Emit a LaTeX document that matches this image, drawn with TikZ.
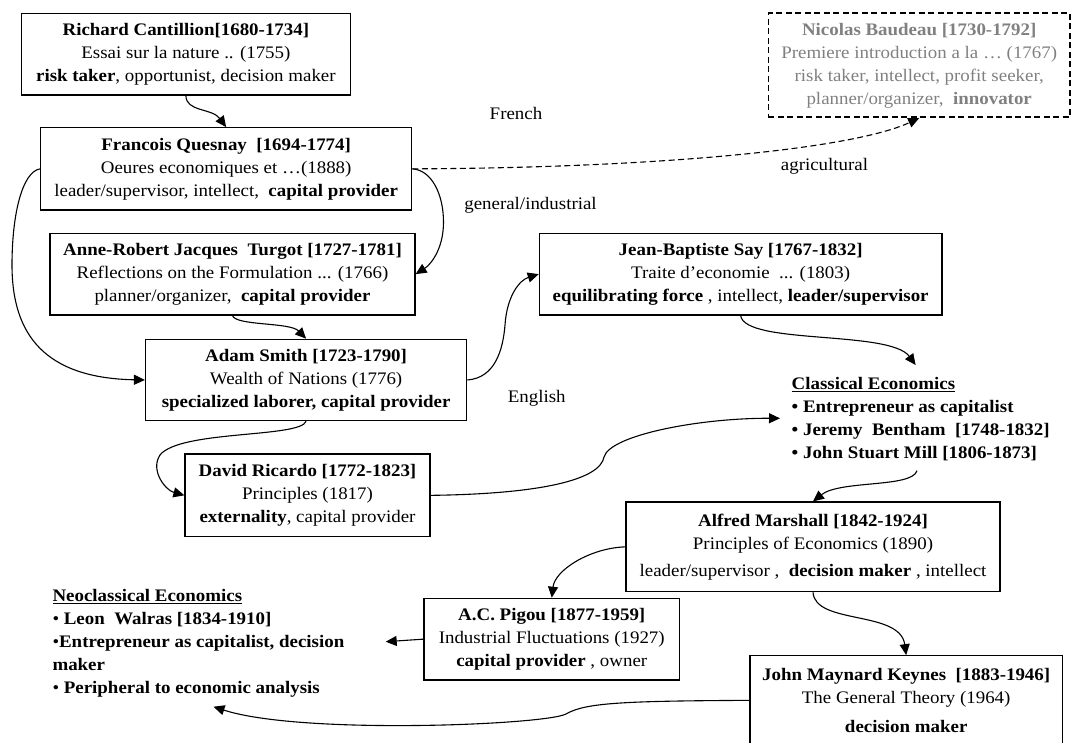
\documentclass[tikz,border=0pt]{standalone}
\usepackage{fontspec}
\setmainfont{Liberation Serif}[FakeStretch=1.075]
\usetikzlibrary{arrows.meta}
\definecolor{fadegray}{HTML}{808080}
\tikzset{
  txt/.style={font=\fontsize{17.6}{23}\selectfont, align=center, inner sep=0pt},
  card/.style={txt, draw=black, line width=1.2pt},
  ghostcard/.style={txt, draw=black, line width=1.6pt, dash pattern=on 6pt off 3.5pt, text=fadegray},
  lbl/.style={font=\fontsize{17.6}{23}\selectfont, inner sep=0pt, anchor=base},
  link/.style={line width=1.1pt, -{Triangle[length=11pt,width=10pt]}},
  dashlink/.style={link, dash pattern=on 6pt off 3.5pt},
}
\begin{document}
\begin{tikzpicture}[x=1pt, y=-1pt]
\useasboundingbox (0,0) rectangle (1073,743);

% thinkers
\node[card, minimum width=329.2pt, minimum height=81.7pt] (cant) at (185.9,54.15)
  {\textbf{Richard Cantillion[1680-1734]}\\Essai sur la nature .. (1755)\\\textbf{risk taker}, opportunist, decision maker};
\node[card, minimum width=371.1pt, minimum height=82.3pt] (ques) at (226.15,168.85)
  {\textbf{Francois Quesnay \ [1694-1774]}\\Oeures economiques et …(1888)\\leader/supervisor, intellect, \ \textbf{capital provider}};
\node[card, minimum width=365pt, minimum height=81.7pt] (turg) at (232.5,274.15)
  {\textbf{Anne-Robert Jacques \ Turgot [1727-1781]}\\Reflections on the Formulation ... (1766)\\planner/organizer, \ \textbf{capital provider}};
\node[card, minimum width=321.2pt, minimum height=81.4pt] (smith) at (306.1,380)
  {\textbf{Adam Smith [1723-1790]}\\Wealth of Nations (1776)\\\textbf{specialized laborer, capital provider}};
\node[card, minimum width=245pt, minimum height=82.7pt] (ric) at (307.5,495.35)
  {\textbf{David Ricardo [1772-1823]}\\Principles (1817)\\\textbf{externality}, capital provider};
\node[ghostcard, minimum width=301.6pt, minimum height=104pt] (baud) at (919.2,65.3)
  {\textbf{Nicolas Baudeau [1730-1792]}\\Premiere introduction a la … (1767)\\risk taker, intellect, profit seeker,\\planner/organizer, \ \textbf{innovator}};
\node[card, minimum width=402.7pt, minimum height=81.7pt] (say) at (740.65,274.15)
  {\textbf{Jean-Baptiste Say [1767-1832]}\\Traite d’economie \ ... (1803)\\\textbf{equilibrating force} , intellect, \textbf{leader/supervisor}};
\node[card, minimum width=374pt, minimum height=89.7pt] (marsh) at (813,546.85)
  {\textbf{Alfred Marshall [1842-1924]}\\Principles of Economics (1890)\\[4.3pt]leader/supervisor , \ \textbf{decision maker} , intellect};
\node[card, minimum width=255.5pt, minimum height=81.7pt] (pigou) at (551.75,639.15)
  {\textbf{A.C. Pigou [1877-1959]}\\Industrial Fluctuations (1927)\\\textbf{capital provider} , owner};
\node[card, minimum width=312.4pt, minimum height=89.3pt] (keynes) at (906.2,700.35)
  {\textbf{John Maynard Keynes \ [1883-1946]}\\[0.3pt]The General Theory (1964)\\[5.3pt]\textbf{decision maker}};

% schools
\node[txt, align=left, anchor=west] (classical) at (791.5,418.7)
  {\textbf{\underline{Classical Economics}}\\\textbf{• Entrepreneur as capitalist}\\\textbf{• Jeremy \ Bentham \ [1748-1832]}\\\textbf{• John Stuart Mill [1806-1873]}};
\node[txt, align=left, anchor=west] (neo) at (52.3,643.3)
  {\textbf{\underline{Neoclassical Economics}}\\• \textbf{Leon \ Walras [1834-1910]}\\•\textbf{Entrepreneur as capitalist, decision}\\\textbf{maker}\\• \textbf{Peripheral to economic analysis}};

% branch labels
\node[lbl] (lfrench) at (516,120) {French};
\node[lbl] (lgeneral) at (530.5,209.5) {general/industrial};
\node[lbl] (lagri) at (824.5,171) {agricultural};
\node[lbl] (lenglish) at (536.7,402.3) {English};

% arrow ends at the school summaries
\coordinate (clsin) at (780,418.3);
\coordinate (clstop) at (915.6,365);
\coordinate (clsout) at (917,470.7);
\coordinate (neoin) at (385.7,641.7);
\coordinate (neobot) at (213.5,706.7);

% connectors
\draw[link] (cant.south) .. controls (186,112) and (212,108) .. (ques.north);
\draw[link] (ques.west) .. controls (22,172) and (12,215) .. (12,265)
  .. controls (12,335) and (45,378) .. (smith.west);
\draw[link] (ques.east) .. controls (432,170) and (443.5,195) .. (443.5,222)
  .. controls (443.5,250) and (430,265) .. (turg.east);
\draw[dashlink] (ques.east) .. controls (650,168) and (850,150) .. (baud.south);
\draw[link] (turg.south) .. controls (236,326) and (290,322) .. (smith.north);
\draw[link] (smith.east) .. controls (495,378) and (503,350) .. (505,325)
  .. controls (507,295) and (520,280) .. (say.west);
\draw[link] (smith.south) .. controls (300,438) and (180,430) .. (160,455)
  .. controls (150,470) and (165,490) .. (ric.west);
\draw[link] (ric.east) .. controls (540,494) and (600,480) .. (604,457)
  .. controls (610,435) and (700,418) .. (clsin);
\draw[link] (say.south) .. controls (745,345) and (890,330) .. (clstop);
\draw[link] (clsout) .. controls (912,488) and (840,480) .. (marsh.north);
\draw[link] (marsh.west) .. controls (590,548) and (555,570) .. (pigou.north);
\draw[link] (pigou.west) -- (neoin);
\draw[link] (marsh.south) .. controls (815,625) and (900,610) .. (keynes.north);
\draw[link] (keynes.west) .. controls (620,701) and (585,703) .. (566,714)
  .. controls (545,725) and (300,735) .. (neobot);
\end{tikzpicture}
\end{document}
